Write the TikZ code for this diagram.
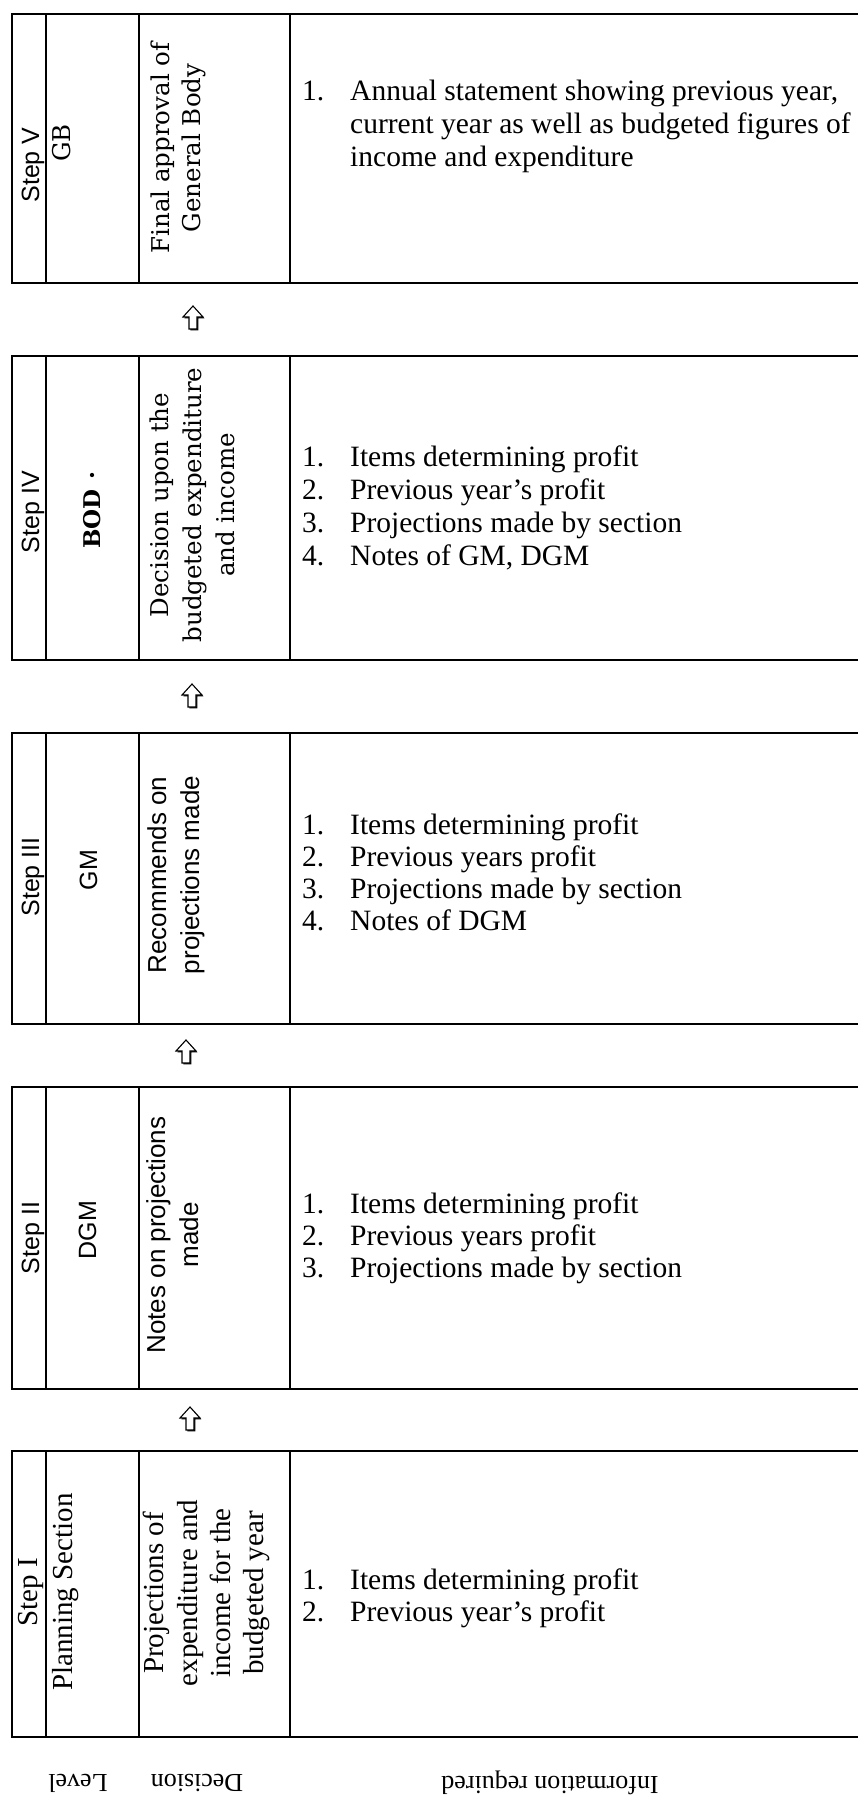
\documentclass[tikz,border=0pt]{standalone}
\usepackage{fontspec}
\setmainfont{Liberation Serif}
\newfontfamily\arialf{Liberation Sans}
\newfontfamily\bookf{DejaVu Serif}
\usetikzlibrary{calc}
\tikzset{
  cell/.style={draw=black, line width=1.6pt, inner sep=0pt, anchor=north west},
  info/.style={font=\fontsize{29.5}{33}\selectfont, inner sep=0pt, anchor=base west},
  rot/.style={rotate=90, inner sep=0pt, anchor=base},
  sansrot/.style={rot, font=\arialf\fontsize{25}{30}\selectfont},
  sansrotb/.style={rot, font=\arialf\fontsize{26}{30}\selectfont},
  bookrot/.style={rot, font=\bookf\fontsize{24.5}{30}\selectfont},
  bookboldrot/.style={rot, font=\bookf\bfseries\fontsize{23}{30}\selectfont},
  timesrot/.style={rot, font=\fontsize{29}{33}\selectfont},
  footlabel/.style={rotate=180, inner sep=0pt, anchor=center, font=\fontsize{26}{30}\selectfont},
  uparrowpic/.pic={
    \fill[black] (-2.6,12.4) -- (-2.6,0.4) -- (-8.6,0.4) -- (1.4,-10.6) -- (11.4,0.4) -- (5.4,0.4) -- (5.4,12.4) -- cycle;
    \draw[line width=1.1pt, fill=white, line join=miter] (-4,11) -- (-4,-1) -- (-10,-1) -- (0,-12) -- (10,-1) -- (4,-1) -- (4,11) -- cycle;
  }
}
\begin{document}
\begin{tikzpicture}[x=1pt, y=-1pt]
\useasboundingbox (0,0) rectangle (858,1801);
\fill[white] (0,0) rectangle (858,1801);
\clip (0,0) rectangle (858,1801);

% ---------- Step V ----------
\node[cell, minimum width=34pt, minimum height=269pt] (V0) at (11,13) {};
\node[cell, minimum width=93pt, minimum height=269pt] (V1) at (45,13) {};
\node[cell, minimum width=151pt, minimum height=269pt] (V2) at (138,13) {};
\node[cell, minimum width=581pt, minimum height=269pt] (V3) at (289,13) {};
\node[sansrot] (V0t) at (39,165) {Step V};
\node[bookrot] (V1t) at (70,143) {GB};
\node[bookrot] (V2a) at (169,148) {Final approval of};
\node[bookrot] (V2b) at (200,148) {General Body};
\node[info] (V3n) at (302,100) {1.};
\node[info] (V3a) at (350,100) {Annual statement showing previous year,};
\node[info] (V3b) at (350,133) {current year as well as budgeted figures of};
\node[info] (V3c) at (350,166) {income and expenditure};

\pic at (193,318) {uparrowpic};

% ---------- Step IV ----------
\node[cell, minimum width=34pt, minimum height=304pt] (D0) at (11,355) {};
\node[cell, minimum width=93pt, minimum height=304pt] (D1) at (45,355) {};
\node[cell, minimum width=151pt, minimum height=304pt] (D2) at (138,355) {};
\node[cell, minimum width=581pt, minimum height=304pt] (D3) at (289,355) {};
\node[sansrot] (D0t) at (39,512) {Step IV};
\node[bookboldrot] (D1t) at (100,510) {BOD\hspace{10pt}·};
\node[bookrot] (D2a) at (168,505) {Decision upon the};
\node[bookrot] (D2b) at (201,505) {budgeted expenditure};
\node[bookrot] (D2c) at (234,505) {and income};
\node[info] (D3n1) at (302,466) {1.};
\node[info] (D3a) at (350,466) {Items determining profit};
\node[info] (D3n2) at (302,499) {2.};
\node[info] (D3b) at (350,499) {Previous year’s profit};
\node[info] (D3n3) at (302,532) {3.};
\node[info] (D3c) at (350,532) {Projections made by section};
\node[info] (D3n4) at (302,565) {4.};
\node[info] (D3d) at (350,565) {Notes of GM, DGM};

\pic at (192,696) {uparrowpic};

% ---------- Step III ----------
\node[cell, minimum width=34pt, minimum height=291pt] (C0) at (11,732) {};
\node[cell, minimum width=93pt, minimum height=291pt] (C1) at (45,732) {};
\node[cell, minimum width=151pt, minimum height=291pt] (C2) at (138,732) {};
\node[cell, minimum width=581pt, minimum height=291pt] (C3) at (289,732) {};
\node[sansrot] (C0t) at (39,877) {Step III};
\node[sansrot] (C1t) at (97,870) {GM};
\node[sansrotb] (C2a) at (166,875) {Recommends on};
\node[sansrotb] (C2b) at (199,875) {projections made};
\node[info] (C3n1) at (302,834) {1.};
\node[info] (C3a) at (350,834) {Items determining profit};
\node[info] (C3n2) at (302,866) {2.};
\node[info] (C3b) at (350,866) {Previous years profit};
\node[info] (C3n3) at (302,898) {3.};
\node[info] (C3c) at (350,898) {Projections made by section};
\node[info] (C3n4) at (302,930) {4.};
\node[info] (C3d) at (350,930) {Notes of DGM};

\pic at (186,1052) {uparrowpic};

% ---------- Step II ----------
\node[cell, minimum width=34pt, minimum height=302pt] (B0) at (11,1086) {};
\node[cell, minimum width=93pt, minimum height=302pt] (B1) at (45,1086) {};
\node[cell, minimum width=151pt, minimum height=302pt] (B2) at (138,1086) {};
\node[cell, minimum width=581pt, minimum height=302pt] (B3) at (289,1086) {};
\node[sansrot] (B0t) at (39,1238) {Step II};
\node[sansrot] (B1t) at (96,1230) {DGM};
\node[sansrotb] (B2a) at (165,1235) {Notes on projections};
\node[sansrotb] (B2b) at (198,1235) {made};
\node[info] (B3n1) at (302,1213) {1.};
\node[info] (B3a) at (350,1213) {Items determining profit};
\node[info] (B3n2) at (302,1245) {2.};
\node[info] (B3b) at (350,1245) {Previous years profit};
\node[info] (B3n3) at (302,1277) {3.};
\node[info] (B3c) at (350,1277) {Projections made by section};

\pic at (190,1419) {uparrowpic};

% ---------- Step I ----------
\node[cell, minimum width=34pt, minimum height=286pt] (A0) at (11,1450) {};
\node[cell, minimum width=93pt, minimum height=286pt] (A1) at (45,1450) {};
\node[cell, minimum width=151pt, minimum height=286pt] (A2) at (138,1450) {};
\node[cell, minimum width=581pt, minimum height=286pt] (A3) at (289,1450) {};
\node[timesrot] (A0t) at (37,1592) {Step I};
\node[timesrot] (A1t) at (72,1592) {Planning Section};
\node[timesrot] (A2a) at (163,1593) {Projections of};
\node[timesrot] (A2b) at (197,1593) {expenditure and};
\node[timesrot] (A2c) at (230,1593) {income for the};
\node[timesrot] (A2d) at (263,1593) {budgeted year};
\node[info] (A3n1) at (302,1589) {1.};
\node[info] (A3a) at (350,1589) {Items determining profit};
\node[info] (A3n2) at (302,1621) {2.};
\node[info] (A3b) at (350,1621) {Previous year’s profit};

% ---------- column labels (upside down) ----------
\node[footlabel] (L1) at (78,1783) {Level};
\node[footlabel] (L2) at (197,1783) {Decision};
\node[footlabel] (L3) at (550,1783) {Information required};
\end{tikzpicture}
\end{document}
